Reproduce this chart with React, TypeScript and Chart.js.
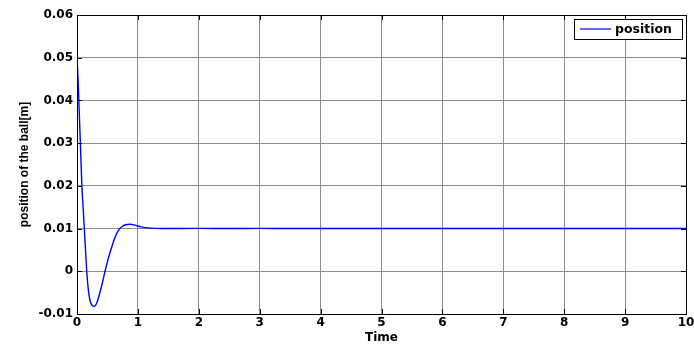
import React, { useEffect, useRef } from "react";
import { Chart, registerables } from "chart.js";

Chart.register(...registerables);

const times = [0, 0.02, 0.04, 0.06, 0.08, 0.1, 0.12, 0.14, 0.16, 0.18, 0.2, 0.22, 0.25, 0.285, 0.32, 0.35, 0.38, 0.42, 0.46, 0.51, 0.56, 0.62, 0.68, 0.74, 0.8, 0.87, 0.95, 1.05, 1.2, 1.4, 2, 2.5, 3, 3.5, 4, 4.5, 5, 5.5, 6, 6.5, 7, 7.5, 8, 8.5, 9, 9.5, 10];
const positions = [0.05, 0.044, 0.036, 0.028, 0.02, 0.015, 0.01, 0.005, 0.0, -0.0035, -0.0058, -0.0072, -0.008, -0.0082, -0.0076, -0.0063, -0.0048, -0.0025, 0.0, 0.0028, 0.0052, 0.0078, 0.0096, 0.0105, 0.0109, 0.011, 0.0108, 0.0104, 0.0101, 0.01, 0.01005, 0.01, 0.01004, 0.01, 0.01, 0.01003, 0.01, 0.01, 0.01003, 0.01, 0.01002, 0.01, 0.01, 0.01, 0.01, 0.01, 0.01];
const seriesLabel = "position";
const xTicks = [0, 1, 2, 3, 4, 5, 6, 7, 8, 9, 10];
const yTicks = [-0.01, 0, 0.01, 0.02, 0.03, 0.04, 0.05, 0.06];

const framePlugin = {
  id: "frameAndLegend",
  afterDraw(chart: any) {
    const { ctx, chartArea, scales } = chart;
    const { left, top, right, bottom } = chartArea;
    ctx.save();
    ctx.strokeStyle = "#000";
    ctx.lineWidth = 1;
    ctx.strokeRect(Math.round(left) + 0.5, Math.round(top) + 0.5, Math.round(right - left), Math.round(bottom - top));
    // inward tick marks on all four sides
    ctx.beginPath();
    xTicks.forEach((v) => {
      const px = Math.round(scales.x.getPixelForValue(v)) + 0.5;
      ctx.moveTo(px, bottom); ctx.lineTo(px, bottom - 5);
      ctx.moveTo(px, top); ctx.lineTo(px, top + 5);
    });
    yTicks.forEach((v) => {
      const py = Math.round(scales.y.getPixelForValue(v)) + 0.5;
      ctx.moveTo(left, py); ctx.lineTo(left + 5, py);
      ctx.moveTo(right, py); ctx.lineTo(right - 5, py);
    });
    ctx.stroke();
    // legend box
    const bx = right - 112, by = top + 4, bw = 108, bh = 20;
    ctx.fillStyle = "#fff";
    ctx.fillRect(bx, by, bw, bh);
    ctx.strokeRect(Math.round(bx) + 0.5, Math.round(by) + 0.5, bw, bh);
    ctx.strokeStyle = "#0000ff";
    ctx.lineWidth = 1.2;
    ctx.beginPath();
    ctx.moveTo(bx + 6, by + bh / 2);
    ctx.lineTo(bx + 37, by + bh / 2);
    ctx.stroke();
    ctx.fillStyle = "#000";
    ctx.font = "bold 12.5px 'DejaVu Sans'";
    ctx.textBaseline = "middle";
    ctx.textAlign = "left";
    ctx.fillText(seriesLabel, bx + 41, by + bh / 2 + 0.5);
    ctx.restore();
  },
};

export default function App() {
  const ref = useRef<HTMLCanvasElement>(null);
  useEffect(() => {
    if (!ref.current) return;
    const chart = new Chart(ref.current, {
      type: "line",
      data: {
        datasets: [
          {
            label: seriesLabel,
            data: times.map((t, i) => ({ x: t, y: positions[i] })),
            borderColor: "#0000ff",
            borderWidth: 1.4,
            pointRadius: 0,
            cubicInterpolationMode: "monotone",
            fill: false,
          },
        ],
      },
      options: {
        animation: false,
        responsive: false,
        layout: { padding: { top: 15, right: 8, left: 0, bottom: 0 } },
        plugins: { legend: { display: false }, tooltip: { enabled: false } },
        scales: {
          x: {
            type: "linear",
            min: 0,
            max: 10,
            afterBuildTicks: (s: any) => { s.ticks = xTicks.map((v) => ({ value: v })); },
            afterFit: (s: any) => { s.height = 33; s.paddingLeft = 0; s.paddingRight = 0; },
            ticks: {
              color: "#000",
              padding: 2,
              maxRotation: 0,
              font: { family: "'DejaVu Sans'", weight: "bold", size: 12 },
              callback: (v: any) => String(v),
            },
            grid: { color: "#8c8c8c", lineWidth: 1, drawTicks: false },
            border: { color: "#000", width: 1 },
            title: {
              display: true,
              text: "Time",
              color: "#000",
              padding: { top: 0, bottom: 2 },
              font: { family: "'DejaVu Sans'", weight: "bold", size: 12 },
            },
          },
          y: {
            type: "linear",
            min: -0.01,
            max: 0.06,
            afterBuildTicks: (s: any) => { s.ticks = yTicks.map((v) => ({ value: v })); },
            afterFit: (s: any) => { s.width = 77; s.paddingTop = 0; s.paddingBottom = 0; },
            ticks: {
              color: "#000",
              padding: 4,
              font: { family: "'DejaVu Sans'", weight: "bold", size: 12 },
              callback: (v: any) => {
                const n = Math.round(Number(v) * 100) / 100;
                return n === 0 ? "0" : n.toFixed(2);
              },
            },
            grid: { color: "#8c8c8c", lineWidth: 1, drawTicks: false },
            border: { color: "#000", width: 1 },
            title: {
              display: true,
              text: "position of the ball[m]",
              color: "#000",
              padding: { top: 17, bottom: 0 },
              font: { family: "'Liberation Sans'", weight: "bold", size: 12 },
            },
          },
        },
      },
      plugins: [framePlugin],
    });
    return () => chart.destroy();
  }, []);
  return (
    <div style={{ position: "absolute", left: 0, top: 0, width: 694, height: 347, background: "#fff" }}>
      <canvas ref={ref} width={694} height={347} />
    </div>
  );
}
